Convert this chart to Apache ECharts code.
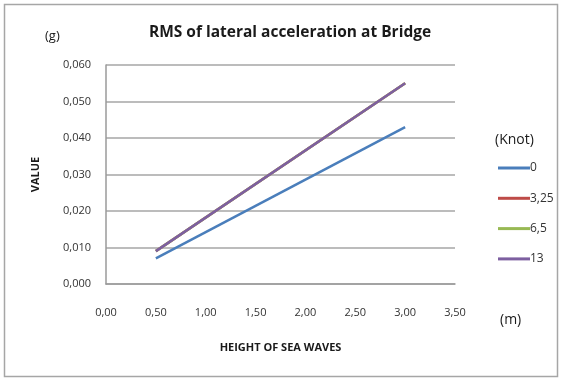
<!DOCTYPE html>
<html>
<head>
<meta charset="utf-8">
<script src="https://cdn.jsdelivr.net/npm/echarts@6/dist/echarts.min.js"></script>
<style>
  html, body { margin: 0; padding: 0; background: #fff; }
  #chart { width: 568px; height: 378px; }
</style>
</head>
<body>
<div id="chart"></div>
<script>
// Wave height (m) at which the RMS was evaluated
const waveHeights = [0.5, 3.0];

// Ship speed groups (knots)
const speedNames = ['0', '3,25', '6,5', '13'];

// RMS of lateral acceleration (g) per speed
const rms0 = [0.007, 0.043];
const rms325 = [0.009, 0.055];
const rms65 = [0.009, 0.055];
const rms13 = [0.009, 0.055];

const seriesColors = ['#4a7ebb', '#be4b48', '#98b954', '#7d5fa0'];

const FONT = '"Open Sans", "Liberation Sans", Arial, sans-serif';
const comma = (v, d) => v.toFixed(d).replace('.', ',');

const pairs = arr => waveHeights.map((x, i) => [x, arr[i]]);
const allValues = [rms0, rms325, rms65, rms13];

const chart = echarts.init(document.getElementById('chart'));
chart.setOption({
  animation: false,
  backgroundColor: '#fff',
  title: {
    text: 'RMS of lateral acceleration at Bridge',
    left: 285,
    top: 20,
    textAlign: 'center',
    textStyle: { fontFamily: FONT, fontSize: 15.5, fontWeight: 'bold', color: '#1a1a1a' }
  },
  grid: { left: 106, right: 113, top: 65, bottom: 94 },
  xAxis: {
    type: 'value',
    min: 0, max: 3.5, interval: 0.5,
    name: 'HEIGHT OF SEA WAVES',
    nameLocation: 'middle',
    nameGap: 58,
    nameTextStyle: { fontFamily: FONT, fontSize: 11, fontWeight: 'bold', color: '#1a1a1a' },
    axisLine: { show: true, lineStyle: { color: '#9a9a9a', width: 1.5 } },
    axisTick: { show: false },
    splitLine: { show: false },
    axisLabel: { fontFamily: FONT, fontSize: 11, color: '#333', margin: 23, formatter: v => comma(v, 2) }
  },
  yAxis: {
    type: 'value',
    min: 0, max: 0.06, interval: 0.01,
    name: 'VALUE',
    nameLocation: 'middle',
    nameGap: 65,
    nameTextStyle: { fontFamily: FONT, fontSize: 11, fontWeight: 'bold', color: '#1a1a1a' },
    axisLine: { show: true, lineStyle: { color: '#9a9a9a', width: 1.5 } },
    axisTick: { show: false },
    splitLine: { show: true, lineStyle: { color: '#a6a6a6', width: 1.5 } },
    axisLabel: { fontFamily: FONT, fontSize: 11, color: '#333', margin: 15, formatter: v => comma(v, 3) }
  },
  legend: {
    orient: 'vertical',
    left: 493,
    top: 157,
    itemWidth: 32,
    itemHeight: 3,
    itemGap: 18.3,
    icon: 'rect',
    textStyle: { fontFamily: FONT, fontSize: 12, color: '#333', padding: [0, 0, 0, -5] },
    data: speedNames
  },
  graphic: [
    { type: 'rect', shape: { x: 4.5, y: 4.5, width: 553, height: 372 }, style: { fill: 'none', stroke: '#a6a6a6', lineWidth: 1.5 }, silent: true },
    { type: 'text', left: 45, top: 30, style: { text: '(g)', font: '13px ' + FONT, fill: '#1a1a1a' } },
    { type: 'text', left: 495, top: 133, style: { text: '(Knot)', font: '14px ' + FONT, fill: '#1a1a1a' } },
    { type: 'text', left: 500, top: 313, style: { text: '(m)', font: '14px ' + FONT, fill: '#1a1a1a' } }
  ],
  series: speedNames.map((name, i) => ({
    name,
    type: 'line',
    data: pairs(allValues[i]),
    showSymbol: false,
    symbol: 'none',
    itemStyle: { color: seriesColors[i] },
    lineStyle: { color: seriesColors[i], width: 2.5 }
  }))
});
</script>
</body>
</html>
